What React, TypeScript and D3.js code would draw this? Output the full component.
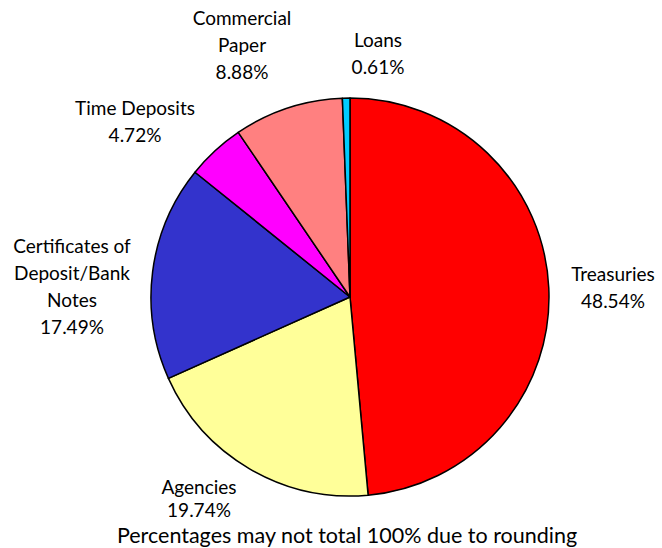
import React from "react";
import * as d3 from "d3";

const categories = ["Treasuries", "Agencies", "Certificates of Deposit/Bank Notes", "Time Deposits", "Commercial Paper", "Loans"];
const values = [48.54, 19.74, 17.49, 4.72, 8.88, 0.61];
const colors = ["#FF0000", "#FFFF99", "#3333CC", "#FF00FF", "#FF8080", "#00CCFF"];
const labelLines = [
  ["Treasuries", "48.54%"],
  ["Agencies", "19.74%"],
  ["Certificates of", "Deposit/Bank", "Notes", "17.49%"],
  ["Time Deposits", "4.72%"],
  ["Commercial", "Paper", "8.88%"],
  ["Loans", "0.61%"],
];
const labelPos = [
  [613, 273],
  [199, 486],
  [72, 245],
  [135, 107],
  [242, 17],
  [378, 39],
];
const footnote = "Percentages may not total 100% due to rounding";

export default function App() {
  const W = 662, H = 548;
  const cx = 350, cy = 297, r = 199;
  const pie = d3.pie<number>().sort(null).value((d) => d);
  const arcs = pie(values);
  const arc = d3.arc<d3.PieArcDatum<number>>().innerRadius(0).outerRadius(r);
  const font = "Lato, 'Open Sans', sans-serif";
  return (
    <svg width={W} height={H} style={{ position: "absolute", left: 0, top: 0 }}>
      <rect width={W} height={H} fill="#fff" />
      <g transform={`translate(${cx},${cy})`}>
        {arcs.map((a, i) => (
          <path key={categories[i]} d={arc(a) || ""} fill={colors[i]} stroke="#000" strokeWidth={1.5} strokeLinejoin="round" />
        ))}
      </g>
      {labelLines.map((lines, i) => (
        <text key={i} fontFamily={font} fontSize={19} fill="#000" textAnchor="middle">
          {lines.map((t, j) => (
            <tspan key={j} x={labelPos[i][0]} y={labelPos[i][1] + j * (i === 1 ? 23 : 27)} dominantBaseline="central">{t}</tspan>
          ))}
        </text>
      ))}
      <text x={347} y={535} fontFamily={font} fontSize={21.5} textAnchor="middle" dominantBaseline="central" fill="#000">{footnote}</text>
    </svg>
  );
}
